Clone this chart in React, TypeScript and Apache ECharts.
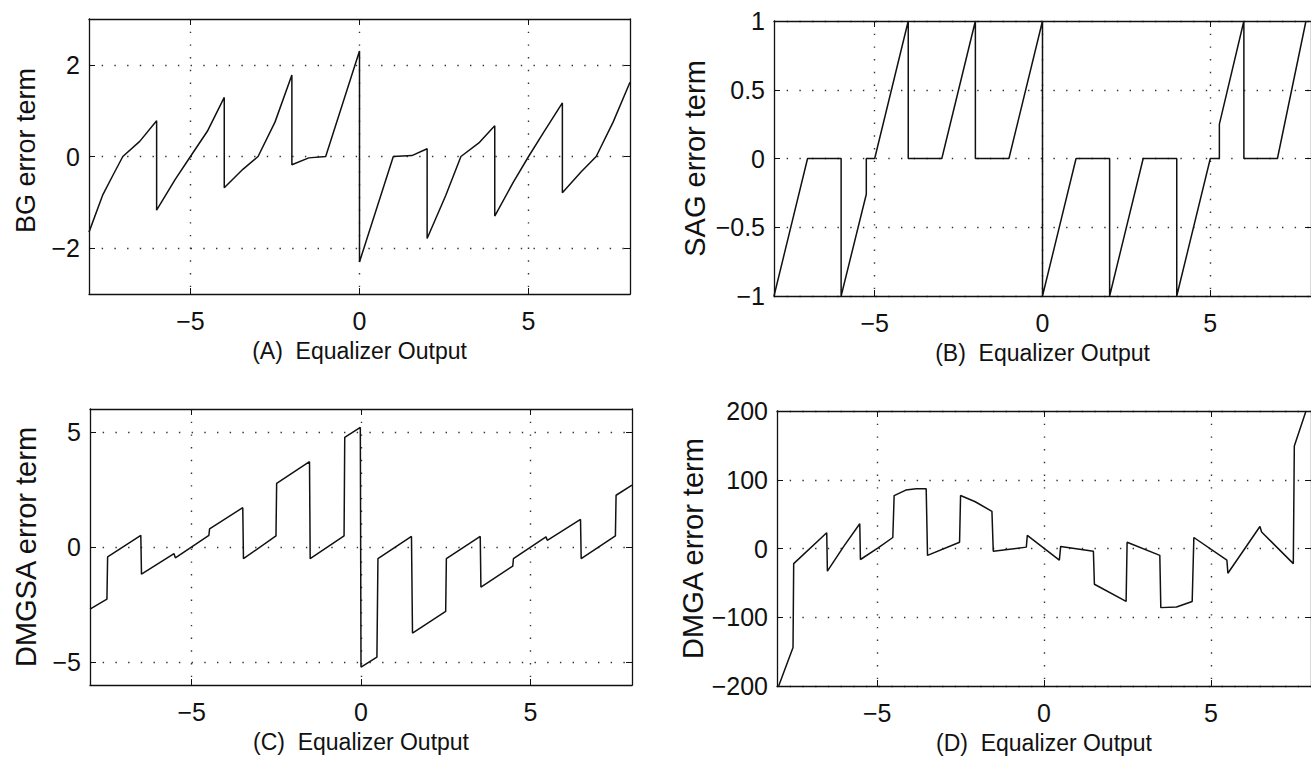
import React, { useEffect, useRef } from "react";
import * as echarts from "echarts";

// ---- data ----
const xTicks = [-5, 0, 5];

const bgTicks = [-2, 0, 2];
const bgData: [number, number][] = [
  [-8, -1.65], [-7.6, -0.85], [-7.3, -0.42], [-7, 0], [-6.5, 0.33], [-6, 0.78], [-6, -1.17],
  [-5.45, -0.5], [-5, 0], [-4.5, 0.55], [-4, 1.29], [-4, -0.68], [-3.45, -0.28], [-3, 0],
  [-2.5, 0.75], [-2, 1.78], [-2, -0.18], [-1.5, -0.03], [-1, 0], [0, 2.3], [0, -2.3],
  [1, 0], [1.55, 0.02], [2, 0.17], [2, -1.79], [2.55, -0.85], [3, 0], [3.55, 0.31],
  [4, 0.67], [4, -1.3], [4.55, -0.56], [5, 0], [5.45, 0.53], [6, 1.17], [6, -0.79],
  [6.55, -0.34], [7, 0], [7.5, 0.75], [8, 1.62],
];

const sagTicks = [-1, -0.5, 0, 0.5, 1];
const sagData: [number, number][] = [
  [-8, -1], [-7, 0], [-6, 0], [-6, -1], [-5.25, -0.26], [-5.25, 0], [-5, 0], [-4, 1], [-4, 0],
  [-3, 0], [-2, 1], [-2, 0], [-1, 0], [0, 1], [0, -1], [1, 0], [2, 0], [2, -1], [3, 0],
  [4, 0], [4, -1], [5, 0], [5.27, 0], [5.27, 0.25], [6, 1], [6, 0], [7, 0], [7.85, 1],
];

const dmgsaTicks = [-5, 0, 5];
const dmgsaData: [number, number][] = [
  [-8, -2.7], [-7.5, -2.27], [-7.48, -0.43], [-6.5, 0.51], [-6.48, -1.18], [-5.52, -0.29],
  [-5.48, -0.47], [-4.49, 0.51], [-4.47, 0.79], [-3.49, 1.71], [-3.47, -0.51], [-2.51, 0.48],
  [-2.49, 2.77], [-1.52, 3.71], [-1.5, -0.51], [-0.5, 0.48], [-0.48, 4.77], [-0.02, 5.2],
  [0, -5.22], [0.47, -4.79], [0.5, -0.51], [1.49, 0.46], [1.52, -3.74], [2.5, -2.8],
  [2.52, -0.51], [3.52, 0.46], [3.54, -1.74], [4.48, -0.83], [4.5, -0.51], [5.46, 0.44],
  [5.5, 0.29], [6.48, 1.2], [6.5, -0.51], [7.51, 0.48], [7.53, 2.25], [8, 2.69],
];

const dmgaTicks = [-200, -100, 0, 100, 200];
const dmgaData: [number, number][] = [
  [-7.95, -200], [-7.52, -144], [-7.5, -22], [-6.51, 23], [-6.49, -33], [-6.0, 3],
  [-5.52, 36], [-5.5, -16], [-4.97, 1], [-4.53, 16], [-4.49, 77], [-4.14, 85], [-3.83, 87],
  [-3.53, 87], [-3.49, -10], [-2.53, 9], [-2.5, 77], [-2.06, 68], [-1.56, 54], [-1.52, -4],
  [-0.53, 2], [-0.5, 19], [0.46, -17], [0.5, 3], [1.48, -4], [1.51, -52], [2.46, -77],
  [2.49, 9], [3.47, -10], [3.5, -86], [3.97, -85], [4.44, -77], [4.49, 16], [5.48, -17],
  [5.51, -36], [6.47, 32], [6.52, 24], [7.47, -22], [7.5, 149], [7.85, 200],
];

const yNames = ["BG error term", "SAG error term", "DMGSA error term", "DMGA error term"];
const xNames = ["(A)  Equalizer Output", "(B)  Equalizer Output", "(C)  Equalizer Output", "(D)  Equalizer Output"];
const seriesData = [bgData, sagData, dmgsaData, dmgaData];
const yTickSets = [bgTicks, sagTicks, dmgsaTicks, dmgaTicks];
const yRanges: [number, number][] = [[-3, 3], [-1, 1], [-6, 6], [-200, 200]];

// ---- layout ----
const rects = [
  { left: 89, top: 19, width: 541, height: 275 },
  { left: 774, top: 21, width: 540, height: 275 },
  { left: 90, top: 409, width: 542, height: 276 },
  { left: 777, top: 411, width: 540, height: 275 },
];
const yNameGaps = [50, 65, 50, 62];
const yNameSizes = [27, 29, 29, 29];
const yNamePads = [[0, 0, 0, 12], [0, 0, 0, 0], [0, 0, 0, 0], [0, 0, 0, 0]];

const FONT = "'Liberation Sans', Arial, Helvetica, sans-serif";
const INK = "#111";
const fmt = (v: number) => String(v).replace("-", "\u2212");

export default function App() {
  const ref = useRef<HTMLDivElement>(null);
  useEffect(() => {
    if (!ref.current) return;
    const chart = echarts.init(ref.current, undefined, { renderer: "svg" });
    const grid: any[] = [];
    const xAxis: any[] = [];
    const yAxis: any[] = [];
    const series: any[] = [];
    rects.forEach((r, i) => {
      grid.push({ ...r, containLabel: false });
      const gridLine = { show: true, lineStyle: { color: "#333", width: 1.4, type: [1.4, 11.3] } };
      xAxis.push({
        type: "value", gridIndex: i, min: -8, max: 8, position: "bottom",
        axisLine: { show: true, onZero: false, lineStyle: { color: INK, width: 1.3 } },
        axisTick: { show: true, inside: true, length: 6, customValues: xTicks, lineStyle: { color: INK } },
        axisLabel: { show: true, customValues: xTicks, formatter: fmt, margin: 14, fontSize: 25, fontFamily: FONT, color: INK },
        splitLine: gridLine,
        name: xNames[i], nameLocation: "middle", nameGap: 45,
        nameTextStyle: { fontSize: 23, fontFamily: FONT, color: INK },
      });
      xAxis.push({
        type: "value", gridIndex: i, min: -8, max: 8, position: "top",
        axisLine: { show: true, onZero: false, lineStyle: { color: INK, width: 1.3 } },
        axisTick: { show: true, inside: true, length: 6, customValues: xTicks, lineStyle: { color: INK } },
        axisLabel: { show: false }, splitLine: { show: false },
      });
      const yt = yTickSets[i];
      yAxis.push({
        type: "value", gridIndex: i, min: yRanges[i][0], max: yRanges[i][1], position: "left",
        axisLine: { show: true, onZero: false, lineStyle: { color: INK, width: 1.3 } },
        axisTick: { show: true, inside: true, length: 6, customValues: yt, lineStyle: { color: INK } },
        axisLabel: { show: true, customValues: yt, formatter: fmt, margin: 9, fontSize: 25, fontFamily: FONT, color: INK },
        splitLine: gridLine,
        name: yNames[i], nameLocation: "middle", nameRotate: 90,
        nameGap: yNameGaps[i],
        nameTextStyle: { fontSize: yNameSizes[i], fontFamily: FONT, color: INK, padding: yNamePads[i] },
      });
      yAxis.push({
        type: "value", gridIndex: i, min: yRanges[i][0], max: yRanges[i][1], position: "right",
        axisLine: { show: true, onZero: false, lineStyle: { color: INK, width: 1.3 } },
        axisTick: { show: true, inside: true, length: 6, customValues: yt, lineStyle: { color: INK } },
        axisLabel: { show: false }, splitLine: { show: false },
      });
      series.push({
        type: "line", xAxisIndex: 2 * i, yAxisIndex: 2 * i, data: seriesData[i],
        showSymbol: false, symbol: "none", clip: true,
        lineStyle: { color: INK, width: 1.5 },
      });
    });
    chart.setOption({ animation: false, backgroundColor: "#fff", grid, xAxis, yAxis, series });
    return () => chart.dispose();
  }, []);
  return (
    <div
      ref={ref}
      style={{ position: "fixed", left: 0, top: 0, width: 1311, height: 762, overflow: "hidden" }}
    />
  );
}
